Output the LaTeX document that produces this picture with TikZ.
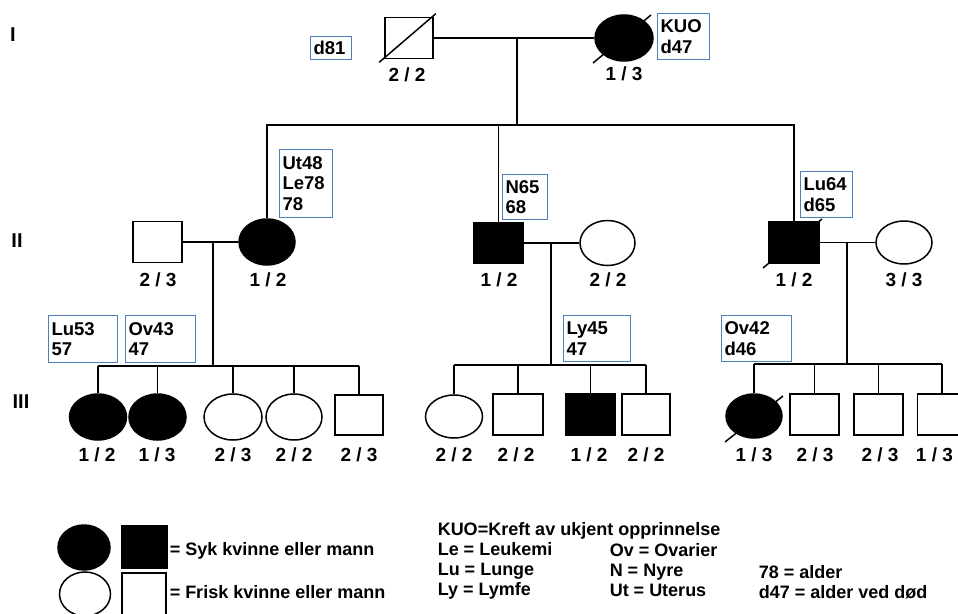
\documentclass[tikz,border=0pt]{standalone}
\usepackage{fontspec}
\setmainfont{Liberation Sans}
\usetikzlibrary{shapes.geometric,calc}
\definecolor{boxblue}{RGB}{78,128,190}
\begin{document}
\begin{tikzpicture}[x=1pt,y=-1pt, line width=1.5pt,
 fem/.style={ellipse, draw, inner sep=0pt},
 mal/.style={rectangle, draw, inner sep=0pt},
 aff/.style={fill=black},
 lab/.style={font=\fontsize{19}{19}\selectfont\bfseries},
 note/.style={draw=boxblue, line width=1.1pt, align=left, anchor=north west, inner xsep=3pt, inner ysep=0pt, font=\fontsize{18.5}{20.5}\selectfont\bfseries},
 gen/.style={font=\fontsize{20}{20}\selectfont\bfseries},
 leg/.style={font=\fontsize{18}{18}\selectfont\bfseries, anchor=base west, inner sep=0pt}]
\fill[white] (0,0) rectangle (958,613);
\useasboundingbox (0,0) rectangle (958,613);

% generation labels
\node[gen] (gI) at (13,35) {I};
\node[gen] (gII) at (17,241) {II};
\node[gen] (gIII) at (21,402) {III};

% ---------- Generation I
\node[mal, minimum width=48pt, minimum height=41pt] (f1) at (409,38) {};
\draw ($(f1.south west)+(-5,3)$) -- ($(f1.north east)+(2,-3)$);
\node[fem, aff, minimum width=58pt, minimum height=46pt] (m1) at (624,38) {};
\draw ($(m1.center)+(-31,25)$) -- ($(m1.center)+(27,-23)$);
\node[lab] (lf1) at (407,75) {2 / 2};
\node[lab] (lm1) at (624,74) {1 / 3};
\node[note, text width=35pt, minimum height=23pt] (bd81) at (310,36) {d81};
\node[note, text width=46pt, minimum height=46pt] (bkuo) at (657,13) {KUO\\d47};

\draw (f1.east) -- (m1.west);
\coordinate (c1) at (517,38);
\coordinate (s1) at (517,125);
\draw (c1) -- (s1);

% ---------- Generation II
\node[mal, minimum width=49pt, minimum height=41pt] (h1) at (157.5,242) {};
\node[fem, aff, minimum width=56pt, minimum height=46pt] (ii1) at (267,242) {};
\node[mal, aff, minimum width=49pt, minimum height=41pt] (ii2) at (498.5,243) {};
\node[fem, minimum width=55pt, minimum height=45pt] (w2) at (607.5,243) {};
\node[mal, aff, minimum width=50pt, minimum height=41pt] (ii3) at (794,242.5) {};
\draw ($(ii3.center)+(-31,25.5)$) -- ($(ii3.center)+(28,-23.5)$);
\node[fem, minimum width=56pt, minimum height=43pt] (w3) at (904,242.5) {};

\node[lab] (lh1) at (158,280) {2 / 3};
\node[lab] (lii1) at (268,280) {1 / 2};
\node[lab] (lii2) at (499,280) {1 / 2};
\node[lab] (lw2) at (608,280) {2 / 2};
\node[lab] (lii3) at (794,280) {1 / 2};
\node[lab] (lw3) at (904,280) {3 / 3};

\node[note, text width=47pt, minimum height=68pt] (but) at (279,149) {Ut48\\Le78\\78};
\node[note, text width=39pt, minimum height=45pt] (bn) at (502,174) {N65\\68};
\node[note, text width=46pt, minimum height=46pt] (blu64) at (800,171) {Lu64\\d65};

% sibship II
\draw (ii1.north) |- (s1) -| (ii3.north);
\draw (ii2.north) -- (ii2.north |- s1);

% marriages II
\draw (h1.east) -- (ii1.west);
\draw (ii2.east) -- (w2.west);
\draw (ii3.east) -- (w3.west);
\coordinate (d1) at (213,242);
\coordinate (t1) at (213,366);
\coordinate (d2) at (551,243);
\coordinate (t2) at (551,365);
\coordinate (d3) at (847,242.5);
\coordinate (t3) at (847,364);
\draw (d1) -- (t1);
\draw (d2) -- (t2);
\draw (d3) -- (t3);

% ---------- Generation III, left
\node[fem, aff, minimum width=57pt, minimum height=46pt] (a1) at (98,417) {};
\node[fem, aff, minimum width=57pt, minimum height=46pt] (a2) at (157.5,417) {};
\node[fem, minimum width=58pt, minimum height=46pt] (a3) at (233,417) {};
\node[fem, minimum width=56pt, minimum height=46pt] (a4) at (294,417) {};
\node[mal, minimum width=48pt, minimum height=40pt] (a5) at (359,415) {};
\draw (a1.north |- t1) -- (a5.north |- t1);
\foreach \n in {a1,a2,a3,a4,a5} \draw (\n.north) -- (\n.north |- t1);
\node[lab] (la1) at (97,455) {1 / 2};
\node[lab] (la2) at (157,455) {1 / 3};
\node[lab] (la3) at (233,455) {2 / 3};
\node[lab] (la4) at (294,455) {2 / 2};
\node[lab] (la5) at (359,455) {2 / 3};
\node[note, text width=63pt, minimum height=47pt] (blu53) at (48,315) {Lu53\\57};
\node[note, text width=64pt, minimum height=47pt] (bov43) at (125,315) {Ov43\\47};

% ---------- Generation III, middle
\node[fem, minimum width=57pt, minimum height=43pt] (b1) at (454,416.5) {};
\node[mal, minimum width=50pt, minimum height=41pt] (b2) at (518,414.5) {};
\node[mal, aff, minimum width=49pt, minimum height=41pt] (b3) at (590.5,414.5) {};
\node[mal, minimum width=48pt, minimum height=41pt] (b4) at (646,414.5) {};
\draw (b1.north |- t2) -- (b4.north |- t2);
\foreach \n in {b1,b2,b3,b4} \draw (\n.north) -- (\n.north |- t2);
\node[lab] (lb1) at (454,455) {2 / 2};
\node[lab] (lb2) at (516,455) {2 / 2};
\node[lab] (lb3) at (589,455) {1 / 2};
\node[lab] (lb4) at (646,455) {2 / 2};
\node[note, text width=61pt, minimum height=46pt] (bly) at (563,315) {Ly45\\47};

% ---------- Generation III, right
\node[fem, aff, minimum width=56pt, minimum height=44pt] (c1n) at (754,416) {};
\draw ($(c1n.center)+(-29,26)$) -- ($(c1n.center)+(29,-20)$);
\node[mal, minimum width=49pt, minimum height=41pt] (c2) at (814.5,414.5) {};
\node[mal, minimum width=49pt, minimum height=41pt] (c3) at (878.5,414.5) {};
\node[mal, minimum width=49pt, minimum height=41pt] (c4) at (942,414.5) {};
\draw (c1n.north |- t3) -- (c4.north |- t3);
\foreach \n in {c1n,c2,c3,c4} \draw (\n.north) -- (\n.north |- t3);
\node[lab] (lc1) at (754,455) {1 / 3};
\node[lab] (lc2) at (815,455) {2 / 3};
\node[lab] (lc3) at (880,455) {2 / 3};
\node[lab, anchor=east] (lc4) at (957,455) {1 / 3};
\node[note, text width=64pt, minimum height=46pt] (bov42) at (721,315) {Ov42\\d46};

% ---------- legend
\node[fem, aff, minimum width=52pt, minimum height=45pt] (k1) at (84,547.5) {};
\node[mal, aff, minimum width=45pt, minimum height=42pt] (k2) at (144.5,547) {};
\node[fem, minimum width=51pt, minimum height=44pt] (k3) at (85,594) {};
\node[mal, minimum width=44pt, minimum height=44pt] (k4) at (144,595) {};
\node[leg] (t1l) at (169,555) {= Syk kvinne eller mann};
\node[leg] (t2l) at (169,598) {= Frisk kvinne eller mann};

\node[leg] (r1) at (437,535) {KUO=Kreft av ukjent opprinnelse};
\node[leg] (r2) at (437,555) {Le = Leukemi};
\node[leg] (r3) at (437,575) {Lu = Lunge};
\node[leg] (r4) at (437,595) {Ly = Lymfe};
\node[leg] (r5) at (609,556) {Ov = Ovarier};
\node[leg] (r6) at (609,576) {N = Nyre};
\node[leg] (r7) at (609,596) {Ut = Uterus};
\node[leg] (r8) at (758,578) {78 = alder};
\node[leg] (r9) at (758,598) {d47 = alder ved død};
\end{tikzpicture}
\end{document}
